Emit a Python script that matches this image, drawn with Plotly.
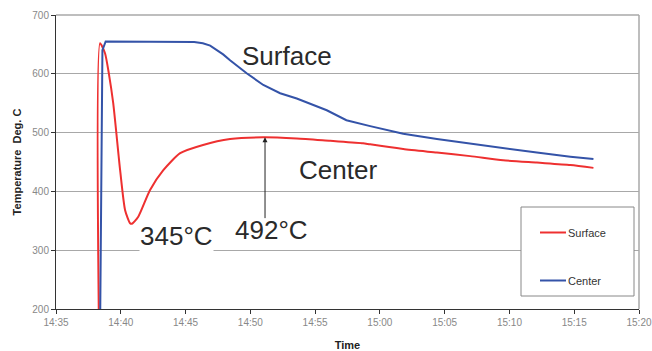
import plotly.graph_objects as go

DAY = "2000-01-01 "

center_times = ["14:38:25", "14:38:35", "14:38:50", "14:44:35", "14:45:40", "14:46:20",
                "14:46:54", "14:47:54", "14:48:26", "14:49:43", "14:51:00", "14:52:18",
                "14:53:35", "14:55:54", "14:57:25", "14:59:15", "15:01:48", "15:04:24",
                "15:06:58", "15:09:31", "15:12:07", "15:14:42", "15:16:29"]
center_vals = [200, 640, 655, 655, 654, 652,
               648, 633, 623, 601, 581, 567,
               558, 538, 521, 511, 498, 489,
               481, 473, 466, 459, 455]

surface_times = ["14:38:18", "14:38:24", "14:38:47", "14:39:05", "14:39:25", "14:39:57",
                 "14:40:20", "14:40:43", "14:40:52", "14:41:21", "14:42:15", "14:43:17",
                 "14:44:35", "14:46:21", "14:48:26", "14:50:59", "14:53:35", "14:56:10",
                 "14:58:42", "14:59:15", "15:01:48", "15:04:24", "15:06:58", "15:09:31",
                 "15:12:07", "15:14:42", "15:16:29"]
surface_vals = [200, 652, 635, 600, 550, 436,
                368, 346, 345, 357, 402, 436,
                465, 479, 489, 492, 490, 486,
                482, 480, 472, 466, 460, 453,
                449, 445, 440]

y_ticks = [200, 300, 400, 500, 600, 700]
x_tick_labels = ["14:35", "14:40", "14:45", "14:50", "14:55", "15:00",
                 "15:05", "15:10", "15:15", "15:20"]

RED = "#EE3030"
BLUE = "#3453A8"
FONT = "Liberation Sans, Arial, sans-serif"

FIG_W, FIG_H = 652, 351
ML, MR, MT, MB = 56, 13, 15, 42

fig = go.Figure()
fig.add_trace(go.Scatter(x=[DAY + t for t in surface_times], y=surface_vals,
                         mode="lines", name="Surface",
                         line=dict(color=RED, width=2, shape="spline", smoothing=0.6)))
fig.add_trace(go.Scatter(x=[DAY + t for t in center_times], y=center_vals,
                         mode="lines", name="Center",
                         line=dict(color=BLUE, width=2)))

fig.update_layout(
    width=FIG_W, height=FIG_H,
    margin=dict(l=ML, r=MR, t=MT, b=MB),
    paper_bgcolor="white", plot_bgcolor="white",
    showlegend=False,
    font=dict(family=FONT, color="#222222"),
)

fig.update_xaxes(
    type="date", automargin=False,
    range=[DAY + "14:35:00", DAY + "15:20:00"],
    tickvals=[DAY + t + ":00" for t in x_tick_labels],
    ticktext=x_tick_labels,
    showgrid=False, showline=True, linecolor="#333333", linewidth=1,
    ticks="outside", ticklen=4, tickcolor="#333333",
    tickfont=dict(size=10, color="#888888", family=FONT),
    title=dict(text="<b>Time</b>", font=dict(size=11, color="#222222", family=FONT), standoff=26),
    zeroline=False,
)
fig.update_yaxes(
    range=[200, 700], automargin=False,
    tickvals=y_ticks,
    showgrid=True, gridcolor="#A8A8A8", gridwidth=1,
    showline=True, linecolor="#333333", linewidth=1,
    ticks="outside", ticklen=4, tickcolor="#333333",
    tickfont=dict(size=10, color="#888888", family=FONT),
    title=dict(text="<b>Temperature  Deg. C</b>", font=dict(size=11, color="#222222", family=FONT), standoff=8),
    zeroline=False,
)

# top and right frame lines (gray)
fig.add_shape(type="line", xref="paper", yref="paper", x0=0, x1=1, y0=1, y1=1,
              line=dict(color="#A8A8A8", width=1.5))
fig.add_shape(type="line", xref="paper", yref="paper", x0=1, x1=1, y0=0, y1=1,
              line=dict(color="#A8A8A8", width=1.5))

big = dict(size=26, color="#2a2a2a", family=FONT)
fig.add_annotation(x=DAY + "14:52:50", y=630, text="Surface", showarrow=False, font=big)
fig.add_annotation(x=DAY + "14:56:46", y=436, text="Center", showarrow=False, font=big)
fig.add_annotation(x=DAY + "14:44:16", y=324, text="345°C", showarrow=False, font=big,
                   bgcolor="white", borderpad=0)
fig.add_annotation(x=DAY + "14:51:36", y=335, text="492°C", showarrow=False, font=big)
# arrow pointing at the peak
fig.add_annotation(x=DAY + "14:51:08", y=492, ax=DAY + "14:51:08", ay=352,
                   axref="x", ayref="y", text="", showarrow=True,
                   arrowhead=2, arrowsize=1, arrowwidth=1, arrowcolor="#222222")

# legend box (drawn manually); positions given in page pixels
PLOT_LEFT, PLOT_TOP = ML, MT
W, H = FIG_W - ML - MR, FIG_H - MT - MB
def px(xp):
    return (xp - PLOT_LEFT) / W
def py(yp):
    return 1 - (yp - PLOT_TOP) / H

fig.add_shape(type="rect", xref="paper", yref="paper",
              x0=px(521), x1=px(634), y0=py(296), y1=py(207),
              line=dict(color="#888888", width=1), fillcolor="white")
fig.add_shape(type="line", xref="paper", yref="paper",
              x0=px(540), x1=px(566), y0=py(232.5), y1=py(232.5),
              line=dict(color=RED, width=2))
fig.add_shape(type="line", xref="paper", yref="paper",
              x0=px(540), x1=px(566), y0=py(280.5), y1=py(280.5),
              line=dict(color=BLUE, width=2))
leg = dict(size=11, color="#333333", family=FONT)
fig.add_annotation(xref="paper", yref="paper", x=px(566), y=py(232.5), text="Surface",
                   showarrow=False, xanchor="left", yanchor="middle", font=leg)
fig.add_annotation(xref="paper", yref="paper", x=px(566), y=py(280.5), text="Center",
                   showarrow=False, xanchor="left", yanchor="middle", font=leg)

fig.write_html("out.html",
               config={"displayModeBar": False},
               post_script="document.body.style.margin='0';document.body.style.overflow='hidden';")
